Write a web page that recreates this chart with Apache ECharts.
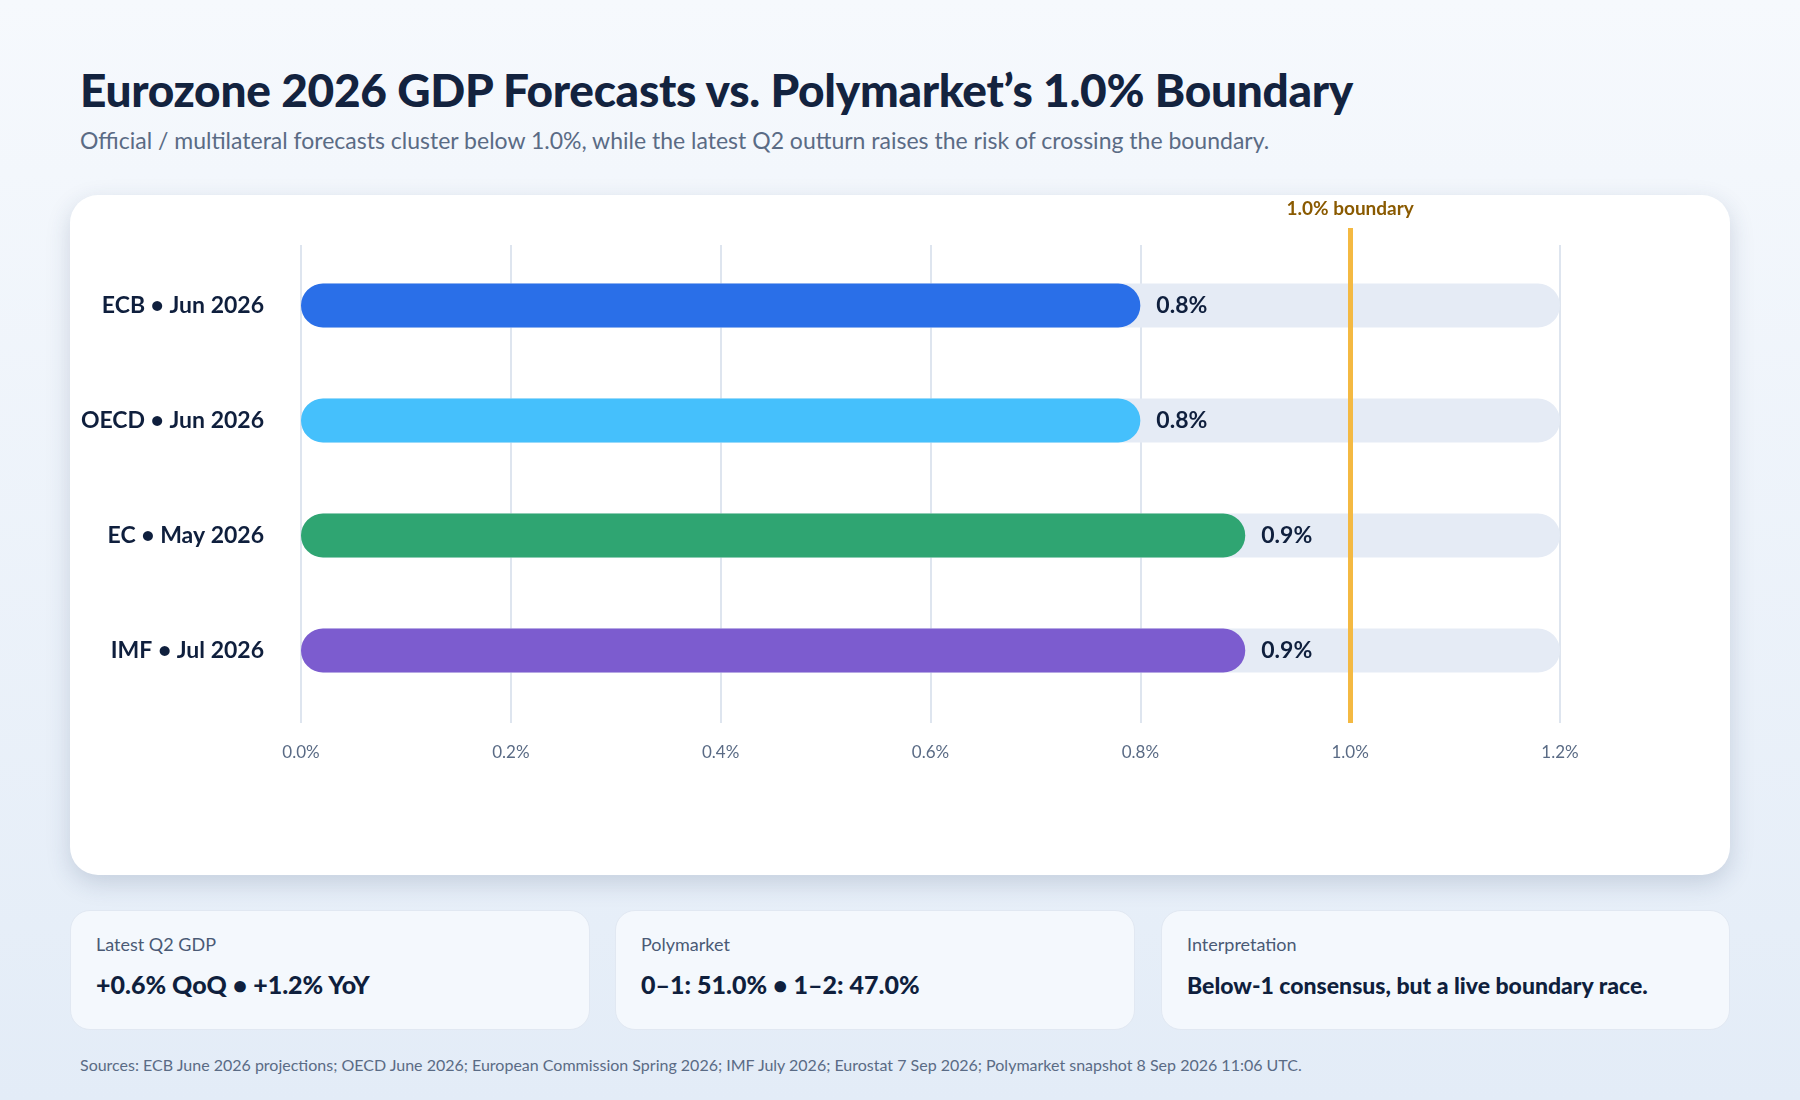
<!DOCTYPE html>
<html><head><meta charset="utf-8">
<script src="https://cdn.jsdelivr.net/npm/echarts@6/dist/echarts.min.js"></script>
<style>
html,body{margin:0;padding:0;width:1800px;height:1100px;overflow:hidden;font-family:Lato,"Noto Sans",sans-serif;}
body{background:linear-gradient(180deg,#f6f9fd 0%,#e3ecf7 100%);position:relative;color:#0f1f3d;}
#title{position:absolute;left:80px;top:62px;font-size:46px;font-weight:900;color:#13233f;letter-spacing:-0.3px;}
#sub{position:absolute;left:80px;top:126px;font-size:23px;color:#5a6b85;}
#card{position:absolute;left:70px;top:195px;width:1660px;height:680px;background:#fff;border-radius:28px;box-shadow:0 8px 24px rgba(40,60,100,0.18);}
#chart{position:absolute;left:0;top:0;width:1660px;height:680px;}
.kc{position:absolute;top:910px;height:120px;background:#f4f8fd;border:1px solid #e1e8f2;border-radius:20px;box-sizing:border-box;padding-left:25px;}
.kc .l{position:absolute;top:22px;font-size:18px;color:#4a5a75;}
.kc .v{position:absolute;top:58px;font-size:25px;font-weight:900;color:#0f1f3d;}
#src{position:absolute;left:80px;top:1055px;font-size:16px;color:#5a6b85;}
</style></head><body>
<div id="title">Eurozone 2026 GDP Forecasts vs. Polymarket’s 1.0% Boundary</div>
<div id="sub">Official / multilateral forecasts cluster below 1.0%, while the latest Q2 outturn raises the risk of crossing the boundary.</div>
<div id="card"><div id="chart"></div></div>
<div class="kc" style="left:70px;width:520px"><div class="l">Latest Q2 GDP</div><div class="v">+0.6% QoQ • +1.2% YoY</div></div>
<div class="kc" style="left:615px;width:520px"><div class="l">Polymarket</div><div class="v">0–1: 51.0% • 1–2: 47.0%</div></div>
<div class="kc" style="left:1161px;width:569px"><div class="l">Interpretation</div><div class="v" style="font-size:23px;top:60px">Below-1 consensus, but a live boundary race.</div></div>
<div id="src">Sources: ECB June 2026 projections; OECD June 2026; European Commission Spring 2026; IMF July 2026; Eurostat 7 Sep 2026; Polymarket snapshot 8 Sep 2026 11:06 UTC.</div>
<script>
const categories = ["ECB • Jun 2026","OECD • Jun 2026","EC • May 2026","IMF • Jul 2026"];
const values = [0.8, 0.8, 0.9, 0.9];
const barColors = ["#2a6fe8","#45c0fc","#2fa572","#7c5ccf"];
const boundary = 1.0;
const xMin = 0, xMax = 1.2, xStep = 0.2;

const chart = echarts.init(document.getElementById('chart'));
const gl = 231, gr = 170;
chart.setOption({
  animation:false,
  grid:[
    {left:gl,right:gr,top:53,height:460},
    {left:gl,right:gr,top:50,height:478},
    {left:gl,right:gr,top:33,height:495}
  ],
  xAxis:[
    {gridIndex:0,type:'value',min:xMin,max:xMax,interval:xStep,axisLabel:{show:false},splitLine:{show:false},axisLine:{show:false},axisTick:{show:false}},
    {gridIndex:1,type:'value',min:xMin,max:xMax,interval:xStep,axisLine:{show:false},axisTick:{show:false},
      splitLine:{show:true,lineStyle:{color:'#d3dcea',width:1.5}},
      axisLabel:{margin:21,fontSize:17,color:'#5a6b85',fontFamily:'Lato',formatter:v=>v.toFixed(1)+'%'}},
    {gridIndex:2,type:'value',min:xMin,max:xMax,show:false}
  ],
  yAxis:[
    {gridIndex:0,type:'category',data:categories,inverse:true,axisLine:{show:false},axisTick:{show:false},
      axisLabel:{margin:37,fontSize:23,fontWeight:'bold',color:'#0f1f3d',fontFamily:'Lato'}},
    {gridIndex:1,type:'value',show:false},
    {gridIndex:2,type:'value',show:false,min:0,max:1}
  ],
  series:[
    {type:'bar',xAxisIndex:0,yAxisIndex:0,barWidth:44,z:3,
      data:values.map((v,i)=>({value:v,itemStyle:{color:barColors[i]}})),
      itemStyle:{borderRadius:22},
      showBackground:true,backgroundStyle:{color:'#e5ebf5',borderRadius:22},
      label:{show:true,position:'right',distance:16,fontSize:23,fontWeight:'bold',color:'#0f1f3d',fontFamily:'Lato',formatter:p=>p.value.toFixed(1)+'%'}},
    {type:'line',xAxisIndex:2,yAxisIndex:2,data:[],z:2,
      markLine:{symbol:'none',silent:true,lineStyle:{color:'#f4b942',width:5,type:'solid'},
        label:{position:'end',distance:10,formatter:'1.0% boundary',fontSize:19,fontWeight:'bold',color:'#8a5a00',fontFamily:'Lato'},
        data:[{xAxis:boundary}]}}
  ]
});
</script></body></html>
